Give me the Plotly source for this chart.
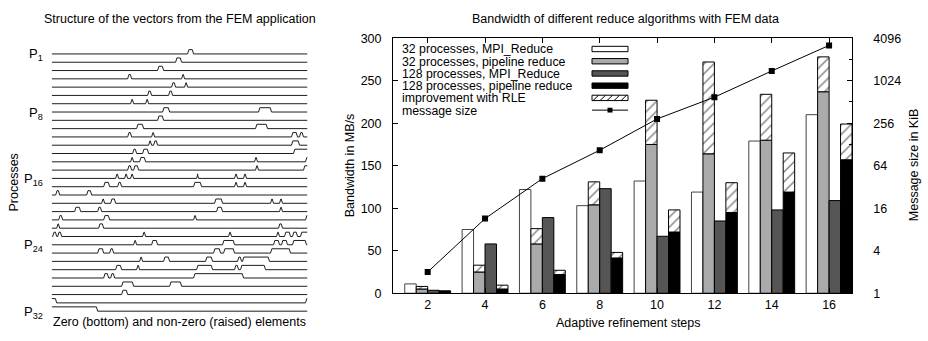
import math
import plotly.graph_objects as go

W, H = 928, 341
def px(x): return x / W
def py(y): return 1 - y / H

FONT = "Liberation Sans, Arial, Helvetica, sans-serif"
FS = 12.5

# ---------------- left panel data: raised (non-zero) element ranges per process (element index 0..256)
n_elements = 256
process_labels = {1: "P<sub>1</sub>", 8: "P<sub>8</sub>", 16: "P<sub>16</sub>", 24: "P<sub>24</sub>", 32: "P<sub>32</sub>"}
nonzero_ranges = {
    1: [(136, 142)],
    2: [(124, 130)],
    3: [(106, 112)],
    4: [(76, 80), (130, 133)],
    5: [(120, 124), (133, 136)],
    6: [(96, 100), (117, 121)],
    7: [(79, 82), (94, 97)],
    8: [(111, 118), (207, 220)],
    9: [(106, 112)],
    10: [(85, 92), (204, 216)],
    11: [(76, 80), (100, 103), (240, 246), (248, 252)],
    12: [(97, 100), (102, 106), (240, 248)],
    13: [(81, 85), (91, 97), (242, 256)],
    14: [(79, 82), (88, 94), (203, 206), (254, 256)],
    15: [(76, 80), (82, 87), (204, 207), (252, 256)],
    16: [(64, 67), (73, 76), (79, 82), (145, 147), (183, 186), (192, 195)],
    17: [(52, 58), (66, 70), (142, 150), (183, 186), (192, 195)],
    18: [(4, 8), (35, 40)],
    19: [(50, 53), (59, 64), (163, 171), (219, 222), (228, 231)],
    20: [(23, 29), (46, 50), (165, 171), (228, 231)],
    21: [(7, 11), (52, 58), (142, 145), (254, 256)],
    22: [(5, 8), (47, 52), (227, 231)],
    23: [(1, 5), (6, 10), (91, 94), (177, 180), (225, 228), (233, 239), (241, 246), (249, 256)],
    24: [(82, 85), (100, 106), (171, 183), (222, 228), (230, 236), (241, 255)],
    25: [(46, 52), (58, 62), (162, 169), (172, 183), (219, 239)],
    26: [(88, 91), (112, 118), (154, 161), (186, 190), (191, 218)],
    27: [(64, 70), (85, 88), (145, 161), (183, 187), (189, 214)],
    28: [(52, 57), (59, 63), (142, 192)],
    29: [(70, 82), (118, 130)],
    30: [(70, 76)],
    31: [(0, 5), (254, 256)],
    32: [(0, 46)],
}

# ---------------- right panel data
steps = [2, 4, 6, 8, 10, 12, 14, 16]
mpi_reduce_32 = [11, 75, 122, 103, 132, 119, 179, 210]
pipeline_32 = [5, 25, 58, 104, 175, 164, 180, 237]
pipeline_32_rle = [8, 33, 76, 131, 227, 272, 234, 278]
mpi_reduce_128 = [3.5, 58, 89, 123, 67, 85, 98, 109]
pipeline_128 = [2.5, 5, 22, 41.5, 72, 95, 119, 157]
pipeline_128_rle = [2.5, 9.5, 27, 48, 98, 130, 165, 199]
message_size_kib = [2, 11.4, 42, 106, 294, 598, 1405, 3236]
y2_ticks = [1, 4, 16, 64, 256, 1024, 4096]
y2_minor = [2, 8, 32, 128, 512, 2048]

legend_labels = ["32 processes, MPI_Reduce", "32 processes, pipeline reduce",
                 "128 processes, MPI_Reduce", "128 processes, pipeline reduce",
                 "improvement with RLE", "message size"]

fig = go.Figure()

# ---------------- left panel
RAISE = 0.52
RAMP = 1.3
xs, ys = [], []
n_proc = 32
for r in range(1, n_proc + 1):
    base = n_proc + 1 - r
    up = base + RAISE
    ivs = nonzero_ranges[r]
    pts = [(0, up)] if ivs and ivs[0][0] <= 0 else [(0, base)]
    for s, e in ivs:
        if s > 0:
            pts.append((s, base)); pts.append((s + RAMP, up))
        if e < n_elements:
            pts.append((e - RAMP, up)); pts.append((e, base))
        else:
            pts.append((n_elements, up))
    if pts[-1][0] < n_elements:
        pts.append((n_elements, base))
    xs += [p[0] for p in pts] + [None]
    ys += [p[1] for p in pts] + [None]

fig.add_trace(go.Scatter(x=xs, y=ys, mode="lines", line=dict(color="#1e1e1e", width=1),
                         xaxis="x", yaxis="y", showlegend=False, hoverinfo="skip"))

# ---------------- right panel bars
line_style = dict(color="black", width=1)
W_BAR = 0.4
hatch = dict(shape="/", fgcolor="black", bgcolor="white", size=7, solidity=0.2, fillmode="overlay")
fig.add_trace(go.Bar(x=steps, y=mpi_reduce_32, width=W_BAR, offset=-0.8, xaxis="x2", yaxis="y2",
                     marker=dict(color="white", line=dict(color="#444", width=1)), name=legend_labels[0]))
fig.add_trace(go.Bar(x=steps, y=pipeline_32, width=W_BAR, offset=-0.4, xaxis="x2", yaxis="y2",
                     marker=dict(color="#aaaaaa", line=line_style), name=legend_labels[1]))
fig.add_trace(go.Bar(x=steps, y=[a - b for a, b in zip(pipeline_32_rle, pipeline_32)], base=pipeline_32,
                     width=W_BAR, offset=-0.4, xaxis="x2", yaxis="y2",
                     marker=dict(color="white", line=line_style, pattern=hatch),
                     name=legend_labels[4]))
fig.add_trace(go.Bar(x=steps, y=mpi_reduce_128, width=W_BAR, offset=0.0, xaxis="x2", yaxis="y2",
                     marker=dict(color="#555555", line=line_style), name=legend_labels[2]))
fig.add_trace(go.Bar(x=steps, y=pipeline_128, width=W_BAR, offset=0.4, xaxis="x2", yaxis="y2",
                     marker=dict(color="black", line=line_style), name=legend_labels[3]))
fig.add_trace(go.Bar(x=steps, y=[a - b for a, b in zip(pipeline_128_rle, pipeline_128)], base=pipeline_128,
                     width=W_BAR, offset=0.4, xaxis="x2", yaxis="y2",
                     marker=dict(color="white", line=line_style, pattern=hatch),
                     name=legend_labels[4]))
fig.add_trace(go.Scatter(x=steps, y=message_size_kib, xaxis="x2", yaxis="y3", mode="lines+markers",
                         line=dict(color="black", width=1),
                         marker=dict(symbol="square", size=6, color="black"), name=legend_labels[5]))

tickfont = dict(family=FONT, size=FS, color="black")
fig.update_layout(
    width=W, height=H, margin=dict(l=0, r=0, t=0, b=0),
    paper_bgcolor="white", plot_bgcolor="white", showlegend=False,
    barmode="overlay", font=dict(family=FONT, size=FS, color="black"),
    xaxis=dict(domain=[px(51.7), px(307.5)], range=[0, n_elements], visible=False, anchor="y"),
    yaxis=dict(domain=[py(325.85), py(40.3)], range=[0, 33], visible=False, anchor="x"),
    xaxis2=dict(domain=[px(393), px(852.3)], range=[0.79, 16.81], anchor="y2",
                tickmode="array", tickvals=steps, ticks="inside", ticklen=5, tickcolor="black",
                showline=True, linecolor="black", linewidth=1, mirror="ticks",
                showgrid=False, zeroline=False, tickfont=tickfont),
    yaxis2=dict(domain=[py(298.5), py(32.5)], range=[0, 300], anchor="x2", dtick=50,
                ticks="inside", ticklen=5, tickcolor="black", showline=True, linecolor="black",
                linewidth=1, mirror=True, showgrid=False, zeroline=False, tickfont=tickfont,
                ticklabelstandoff=8),
    yaxis3=dict(overlaying="y2", side="right", anchor="x2", type="log",
                range=[0, math.log10(4096)], tickmode="array", tickvals=y2_ticks,
                ticktext=[str(v) for v in y2_ticks], ticks="inside", ticklen=5, tickcolor="black",
                minor=dict(tickvals=y2_minor, ticks="inside", ticklen=3, tickcolor="black"),
                showline=False, showgrid=False, zeroline=False, tickfont=tickfont,
                ticklabelstandoff=20),
)

ann = []
def text(x, y, t, xanchor="center", angle=0, size=FS):
    ann.append(dict(x=px(x), y=py(y), xref="paper", yref="paper", text=t, showarrow=False,
                    xanchor=xanchor, yanchor="middle", textangle=angle, borderpad=0,
                    font=dict(family=FONT, size=size, color="black")))

text(179.5, 13, "Structure of the vectors from the FEM application")
text(625, 13, "Bandwidth of different reduce algorithms with FEM data")
text(14, 183, "Processes", angle=-90)
text(179.5, 328, "Zero (bottom) and non-zero (raised) elements")
text(350, 165, "Bandwidth in MB/s", angle=-90)
text(914, 165, "Message size in KiB", angle=-90)
text(628, 330, "Adaptive refinement steps")

row_px = lambda r: 49 + (r - 1) * 8.652
for r, lab in process_labels.items():
    text(44, row_px(r) + 1, lab, xanchor="right", size=13)

# legend (gnuplot style key: text on the left, sample on the right)
shapes = []
fills = ["white", "#aaaaaa", "#555555", "black"]
for i, lab in enumerate(legend_labels):
    yc = 43.8 + i * 12.75
    text(401, yc + 0.5, lab, xanchor="left", size=12.3)
    if i < 4:
        shapes.append(dict(type="rect", xref="paper", yref="paper", x0=px(592), x1=px(628),
                           y0=py(yc - 2.8), y1=py(yc + 2.8), fillcolor=fills[i],
                           line=dict(color="black", width=1)))
    elif i == 4:
        shapes.append(dict(type="rect", xref="paper", yref="paper", x0=px(592), x1=px(628),
                           y0=py(yc - 2.8), y1=py(yc + 2.8), fillcolor="white",
                           line=dict(color="black", width=1)))
        for x0 in [593, 600, 607, 614, 621]:
            shapes.append(dict(type="line", xref="paper", yref="paper", x0=px(x0), x1=px(x0 + 5.6),
                               y0=py(yc + 2.8), y1=py(yc - 2.8), line=dict(color="black", width=1)))
    else:
        shapes.append(dict(type="line", xref="paper", yref="paper", x0=px(592), x1=px(628),
                           y0=py(yc), y1=py(yc), line=dict(color="black", width=1)))
        shapes.append(dict(type="rect", xref="paper", yref="paper", x0=px(607.5), x1=px(612.5),
                           y0=py(yc - 2.5), y1=py(yc + 2.5), fillcolor="black",
                           line=dict(color="black", width=0)))

fig.update_layout(annotations=ann, shapes=shapes)
fig.write_html("out.html", config={"displayModeBar": False},
               post_script="document.body.style.margin='0px';")
